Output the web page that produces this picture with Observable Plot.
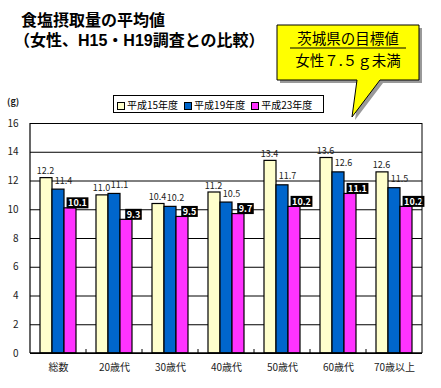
<!DOCTYPE html>
<html><head><meta charset="utf-8">
<script src="https://cdn.jsdelivr.net/npm/d3@7"></script>
<script src="https://cdn.jsdelivr.net/npm/@observablehq/plot@0.6"></script>
<style>
html,body{margin:0;padding:0;background:#fff;}
#wrap{position:relative;width:441px;height:388px;overflow:hidden;font-family:"Noto Sans CJK JP",sans-serif;}
#wrap > svg.plot{position:absolute;left:0;top:0;}
.title{position:absolute;left:14px;top:11px;font-family:"Liberation Sans","Noto Sans CJK JP",sans-serif;font-size:16px;font-weight:bold;color:#000;white-space:nowrap;line-height:19.5px;}
.legend{position:absolute;left:113px;top:95px;width:211px;height:18px;border:1px solid #000;box-sizing:border-box;display:flex;align-items:center;gap:6px;padding-left:3px;font-size:10px;background:#fff;}
.legend span.sw{display:inline-block;width:6px;height:6px;border:1px solid #000;margin-right:2px;vertical-align:middle;}
.unit{position:absolute;left:7px;top:95px;font-size:9px;font-weight:bold;color:#222;}
#callout{position:absolute;left:0;top:0;}
</style>
</head><body>
<div id="wrap">
  <div class="title"><span style="padding-left:7px">食塩摂取量の平均値</span><br>（女性、H15・H19調査との比較）</div>
  <div class="unit">(g)</div>
  <div class="legend" id="legend"></div>
</div>
<script>
const categories = ["総数","20歳代","30歳代","40歳代","50歳代","60歳代","70歳以上"];
const series = ["平成15年度","平成19年度","平成23年度"];
const h15 = [12.2, 11.0, 10.4, 11.2, 13.4, 13.6, 12.6];
const h19 = [11.4, 11.1, 10.2, 10.5, 11.7, 12.6, 11.5];
const h23 = [10.1, 9.3, 9.5, 9.7, 10.2, 11.1, 10.2];
const colors = ["#FFFFCC","#0066CC","#FF33FF"];
const yTicks = [0,2,4,6,8,10,12,14,16];

const seriesValues = [h15, h19, h23];
const data = categories.flatMap((c,i)=>series.map((s,j)=>({category:c, series:s, value:seriesValues[j][i]})));

const chart = Plot.plot({
  width:441, height:388,
  marginTop:123, marginBottom:35, marginLeft:29, marginRight:18,
  style:{fontFamily:"'Noto Sans CJK JP', sans-serif", fontSize:"10px", background:"transparent", color:"#222"},
  fx:{domain:categories, padding:0, label:null, axis:"bottom", tickSize:0, tickPadding:10},
  x:{domain:series, paddingInner:0, paddingOuter:0.72, axis:null},
  y:{domain:[0,16], ticks:yTicks, tickSize:0, tickPadding:12, label:null, tickFormat:d=>String(d)},
  color:{domain:series, range:colors},
  marks:[
    Plot.ruleY(yTicks, {stroke:"#000", strokeWidth:1}),
    Plot.barY(data, {fx:"category", x:"series", y:"value", fill:"series", stroke:"#000", strokeWidth:1.2}),
    Plot.text(data, {filter:d=>d.series===series[0], fx:"category", x:"series", y:"value", text:d=>d.value.toFixed(1), lineAnchor:"bottom", dy:-4, dx:-1, fontSize:9, fill:"#222"}),
    Plot.text(data, {filter:d=>d.series===series[1], fx:"category", x:"series", y:"value", text:d=>d.value.toFixed(1), lineAnchor:"bottom", dy:-6, dx:5, fontSize:9, fill:"#222"}),
    Plot.text(data, {filter:d=>d.series===series[2], fx:"category", x:"series", y:"value", text:d=>d.value.toFixed(1), lineAnchor:"bottom", dy:-2, dx:7, fontSize:9, fontWeight:"bold", fill:"#fffffe"})
  ]
});
chart.classList.add("plot");
const wrap = document.getElementById("wrap");
wrap.insertBefore(chart, wrap.firstChild);

// frame borders and group boundary ticks from the scales
const fx = chart.scale("fx"), y = chart.scale("y");
const svg = d3.select(chart);
const x0 = fx.apply(categories[0]), x1 = fx.apply(categories[categories.length-1]) + fx.bandwidth;
const yTop = y.apply(16), yBot = y.apply(0);
const deco = svg.append("g").attr("stroke","#000");
deco.append("line").attr("x1",x0).attr("x2",x0).attr("y1",yTop).attr("y2",yBot).attr("stroke-width",1.2);
deco.append("line").attr("x1",x1).attr("x2",x1).attr("y1",yTop).attr("y2",yBot);
deco.append("line").attr("x1",x0).attr("x2",x1).attr("y1",yBot).attr("y2",yBot).attr("stroke-width",1.6);
categories.slice(1).forEach(c=>{
  const xx = fx.apply(c);
  deco.append("line").attr("x1",xx).attr("x2",xx).attr("y1",yBot-4).attr("y2",yBot);
});

// black boxes behind the H23 labels
chart.querySelectorAll("text").forEach(el=>{
  const f = el.closest("[fill]");
  if (!f || f.getAttribute("fill") !== "#fffffe") return;
  const b = el.getBBox();
  const r = document.createElementNS("http://www.w3.org/2000/svg","rect");
  r.setAttribute("x", b.x-1.5); r.setAttribute("y", b.y+1);
  r.setAttribute("width", b.width+3); r.setAttribute("height", Math.max(b.height-2, 9));
  r.setAttribute("fill","#000");
  const t = el.getAttribute("transform"); if (t) r.setAttribute("transform", t);
  el.parentNode.insertBefore(r, el);
});

// legend
const legend = document.getElementById("legend");
series.forEach((s,i)=>{
  const item = document.createElement("span");
  item.innerHTML = `<span class="sw" style="background:${colors[i]}"></span>${s}`;
  legend.appendChild(item);
});

// callout
const co = d3.select(wrap).append("svg").attr("id","callout").attr("width",441).attr("height",388);
const pts = "277,25 419,25 419,80 380,80 352,117 357,80 277,80";
co.append("polygon").attr("points",pts).attr("fill","#999").attr("transform","translate(3,3)");
co.append("polygon").attr("points",pts).attr("fill","#FFFF00").attr("stroke","#000").attr("stroke-width",1);
co.append("text").attr("x",348).attr("y",44).attr("text-anchor","middle").attr("font-size",14.5)
  .attr("font-family","'Noto Sans CJK JP', sans-serif").text("茨城県の目標値");
co.append("line").attr("x1",290).attr("x2",406).attr("y1",48).attr("y2",48).attr("stroke","#000").attr("stroke-width",1);
co.append("text").attr("x",348).attr("y",66).attr("text-anchor","middle").attr("font-size",14.5)
  .attr("font-family","'Noto Sans CJK JP', sans-serif").text("女性７.５ｇ未満");
</script>
</body></html>
